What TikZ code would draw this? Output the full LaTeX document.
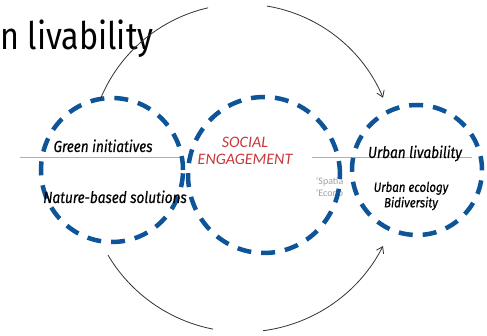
\documentclass[tikz,border=0pt]{standalone}
\usepackage{fontspec}
\setmainfont{Fira Sans}
\newfontfamily\cf[FakeStretch=0.85]{Fira Sans}
\newfontfamily\cfb[FakeStretch=0.85,FakeBold=0.4]{Fira Sans}
\newfontfamily\calf{Carlito}
\usetikzlibrary{shapes.geometric,arrows.meta}
\definecolor{dblue}{RGB}{14,84,152}
\definecolor{sred}{RGB}{200,55,60}
\definecolor{lgray}{RGB}{175,175,175}
\definecolor{fgray}{RGB}{160,160,160}
\definecolor{arcgray}{RGB}{50,50,50}
\tikzset{
  blob/.style={ellipse, draw=dblue, line width=4.5pt, dash pattern=on 14pt off 10pt, inner sep=0pt},
  lbl/.style={inner sep=0pt, anchor=base, font=\cfb\itshape\fontsize{16}{18}\selectfont},
  smlbl/.style={inner sep=0pt, align=center, font=\cfb\itshape\fontsize{13.5}{15.5}\selectfont},
  redlbl/.style={inner sep=0pt, align=center, text=sred, font=\calf\itshape\fontsize{16}{17}\selectfont},
  graytxt/.style={inner sep=0pt, anchor=base west, text=fgray, font=\calf\fontsize{10}{12}\selectfont},
  flow/.style={draw=arcgray, line width=0.8pt},
  flowtip/.style={flow, -{Straight Barb[length=6pt,width=8pt]}},
  rule/.style={draw=lgray, line width=0.8pt}
}
\begin{document}
\begin{tikzpicture}[x=1pt,y=-1pt]
\useasboundingbox (0,0) rectangle (487,336);
% title
\node[inner sep=0pt, anchor=base west, font=\cf\fontsize{38}{42}\selectfont] (title) at (0,50) {n livability};
% rules
\coordinate (r1a) at (20,157); \coordinate (r1b) at (180,157);
\coordinate (r2a) at (312,157); \coordinate (r2b) at (472,157);
\draw[rule] (r1a) -- (r1b);
\draw[rule] (r2a) -- (r2b);
% faint text
\node[graytxt] (sp) at (316,185) {'Spatia};
\node[graytxt] (ec) at (316,197) {'Econo};
% circles
\node[blob, minimum width=142pt, minimum height=144pt] (c1) at (112,170) {};
\node[blob, minimum width=152pt, minimum height=156pt] (c2) at (264,175) {};
\node[blob, minimum width=130pt, minimum height=130pt] (c3) at (417,170) {};
% labels
\node[lbl] (gi) at (103,152) {Green initiatives};
\node[lbl] (nb) at (115,203) {Nature-based solutions};
\node[redlbl] (se) at (245,151) {SOCIAL\\ENGAGEMENT};
\node[lbl] (ul) at (415,158) {Urban livability};
\node[smlbl] (ue) at (411,196) {Urban ecology\\Bidiversity};
% top arc: centre (242,157), r 153
\coordinate (tc) at (242,157);
\draw[flow] ([shift={(-158.1:153)}]tc) arc[start angle=-158.1, end angle=-102.8, radius=153];
\draw[flowtip] ([shift={(-80.6:153)}]tc) arc[start angle=-80.6, end angle=-22.8, radius=153];
% bottom arc: centre (243,175), r 157
\coordinate (bc) at (243,175);
\draw[flow] ([shift={(149.3:157)}]bc) arc[start angle=149.3, end angle=101, radius=157];
\draw[flowtip] ([shift={(82.6:157)}]bc) arc[start angle=82.6, end angle=26.9, radius=157];
\end{tikzpicture}
\end{document}
